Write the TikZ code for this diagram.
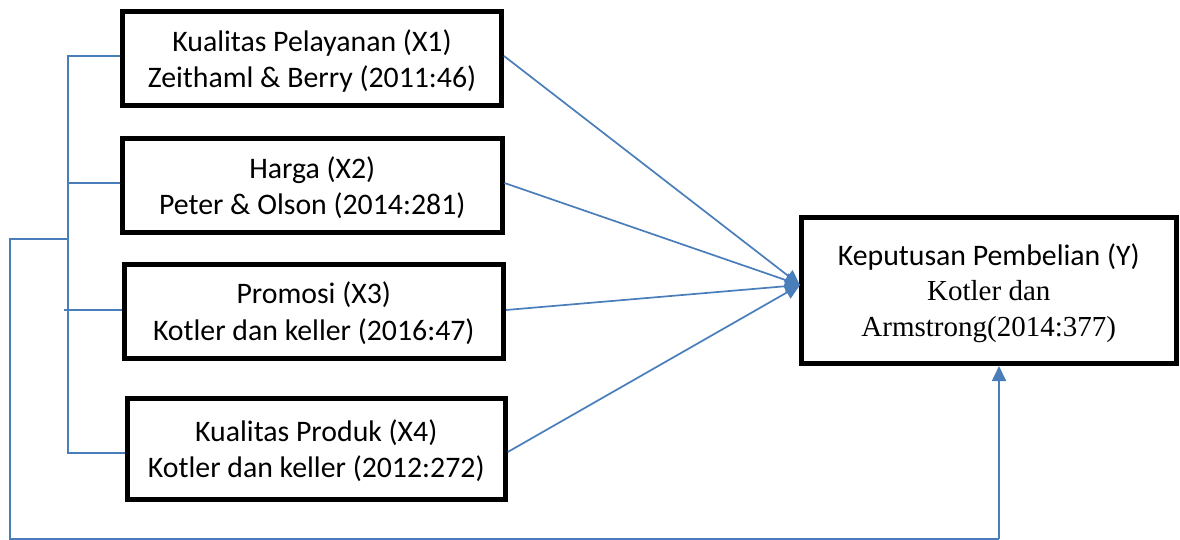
\documentclass[tikz,border=0pt]{standalone}
\usepackage{fontspec}
\setmainfont{Carlito}
\newfontfamily\tnr{Liberation Serif}
\usetikzlibrary{arrows.meta,calc}
\definecolor{lnblue}{HTML}{4A7EBB}
\begin{document}
\begin{tikzpicture}[x=1pt,y=-1pt,
  varbox/.style={draw=black,line width=5pt,fill=white,inner sep=0pt,align=center,
    font=\fontsize{29.8}{36.5}\selectfont},
  link/.style={draw=lnblue,line width=1.7pt},
  arr/.style={link,-{Triangle[length=15pt,width=14pt]}}]
\useasboundingbox (0,0) rectangle (1180,540);
\node[varbox,minimum width=379pt,minimum height=94pt] (b1) at (312,59)
  {\rule{0pt}{26pt}Kualitas Pelayanan (X1)\\Zeithaml \& Berry (2011:46)};
\node[varbox,minimum width=379.5pt,minimum height=93pt] (b2) at (312.25,185.5)
  {\rule{0pt}{26pt}Harga (X2)\\Peter \& Olson (2014:281)};
\node[varbox,minimum width=379.5pt,minimum height=94pt] (b3) at (313.75,311)
  {\rule{0pt}{26pt}Promosi (X3)\\Kotler dan keller (2016:47)};
\node[varbox,minimum width=378pt,minimum height=101pt] (b4) at (316.25,448.5)
  {\rule{0pt}{26pt}Kualitas Produk (X4)\\Kotler dan keller (2012:272)};
\node[varbox,minimum width=375.5pt,minimum height=146pt] (by) at (988.75,290.5)
  {\rule{0pt}{28pt}Keputusan Pembelian (Y)\\[-2pt]{\fontsize{29}{35}\selectfont\tnr Kotler dan}\\{\fontsize{29}{35}\selectfont\tnr Armstrong(2014:377)}};
% arrow target and bracket points
\coordinate (tip) at (800,285);
\coordinate (s1) at (68,56);
\coordinate (s2) at (68,183);
\coordinate (s3) at (64,310);
\coordinate (s4) at (68,453);
\coordinate (sj) at (68,239);
\coordinate (o1) at (10,239);
\coordinate (o2) at (10,539);
\coordinate (o3) at (999,539);
% arrows into Y
\draw[arr] (b1.east |- 0,56) -- (tip);
\draw[arr] (b2.east |- 0,183) -- (tip);
\draw[arr] (b3.east |- 0,310) -- (tip);
\draw[arr] (b4.east |- 0,452) -- (tip);
% bracket
\draw[link] (b1.west |- s1) -- (s1) -- (s4) -- (b4.west |- s4);
\draw[link] (s2) -- (b2.west |- s2);
\draw[link] (s3) -- (b3.west |- s3);
\draw[link] (sj) -- (o1) -- (o2) -- (o3);
\draw[arr] (o3) -- (o3 |- by.south);
\end{tikzpicture}
\end{document}
